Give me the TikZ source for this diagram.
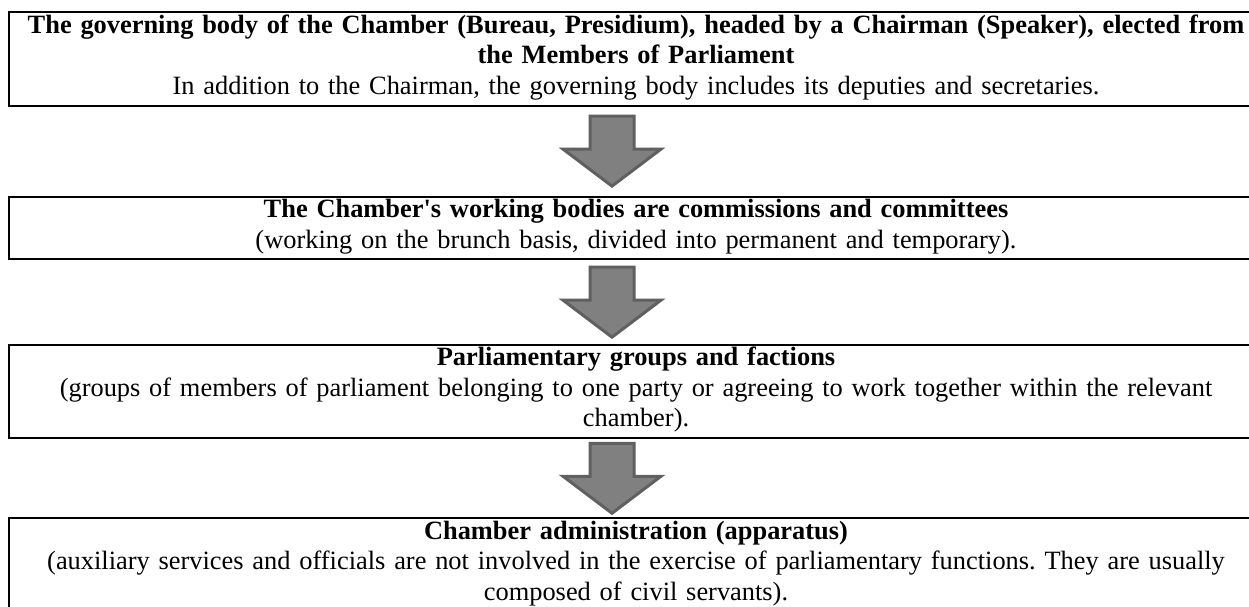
\documentclass[tikz,border=0pt]{standalone}
\usepackage{fontspec}
\setmainfont{Liberation Serif}
\usetikzlibrary{calc}
\definecolor{arrowfill}{RGB}{128,128,128}
\definecolor{arrowline}{RGB}{96,96,96}
\newcommand{\boxstrut}{\rule[-10.4pt]{0pt}{30.4pt}}
\frenchspacing
\begin{document}
\begin{tikzpicture}[x=1pt,y=-1pt,
  boxnode/.style={draw=black, line width=2pt, minimum width=1254pt, text width=1240pt,
    align=center, inner xsep=0pt, inner ysep=1pt,
    font=\fontsize{26.4}{30.4}\selectfont\frenchspacing},
  blockarrow/.style={fill=arrowfill, draw=arrowline, line width=3pt, line join=miter},
  downarrow/.pic={\path[blockarrow] (-22,-35) -- (22,-35) -- (22,-2) -- (49,-2) -- (0,35)
     -- (-49,-2) -- (-22,-2) -- cycle;}]
\useasboundingbox (0,0) rectangle (1249,606);
\clip (0,0) rectangle (1249,606);
\fill[white] (0,0) rectangle (1249,606);

\node[boxnode] (b1) at (636,59)
  {\boxstrut\textbf{The governing body of the Chamber (Bureau, Presidium), headed by a Chairman (Speaker), elected from}\\
   \boxstrut\textbf{the Members of Parliament}\\
   \boxstrut In addition to the Chairman, the governing body includes its deputies and secretaries.};
\node[boxnode] (b2) at (636,228)
  {\boxstrut\textbf{The Chamber\textquotesingle s working bodies are commissions and committees}\\
   \boxstrut(working on the brunch basis, divided into permanent and temporary).};
\node[boxnode] (b3) at (636,391.5)
  {\boxstrut\textbf{Parliamentary groups and factions}\\
   \boxstrut(groups of members of parliament belonging to one party or agreeing to work together within the relevant\\
   \boxstrut chamber).};
\node[boxnode] (b4) at (636,565)
  {\boxstrut\textbf{Chamber administration (apparatus)}\\
   \boxstrut(auxiliary services and officials are not involved in the exercise of parliamentary functions. They are usually\\
   \boxstrut composed of civil servants).};

\coordinate (m1) at ($(b1.south)!0.5!(b2.north)+(-24,0)$);
\coordinate (m2) at ($(b2.south)!0.5!(b3.north)+(-24,0)$);
\coordinate (m3) at ($(b3.south)!0.5!(b4.north)+(-24,0)$);
\pic at (m1) {downarrow};
\pic at (m2) {downarrow};
\pic at (m3) {downarrow};
\end{tikzpicture}
\end{document}
